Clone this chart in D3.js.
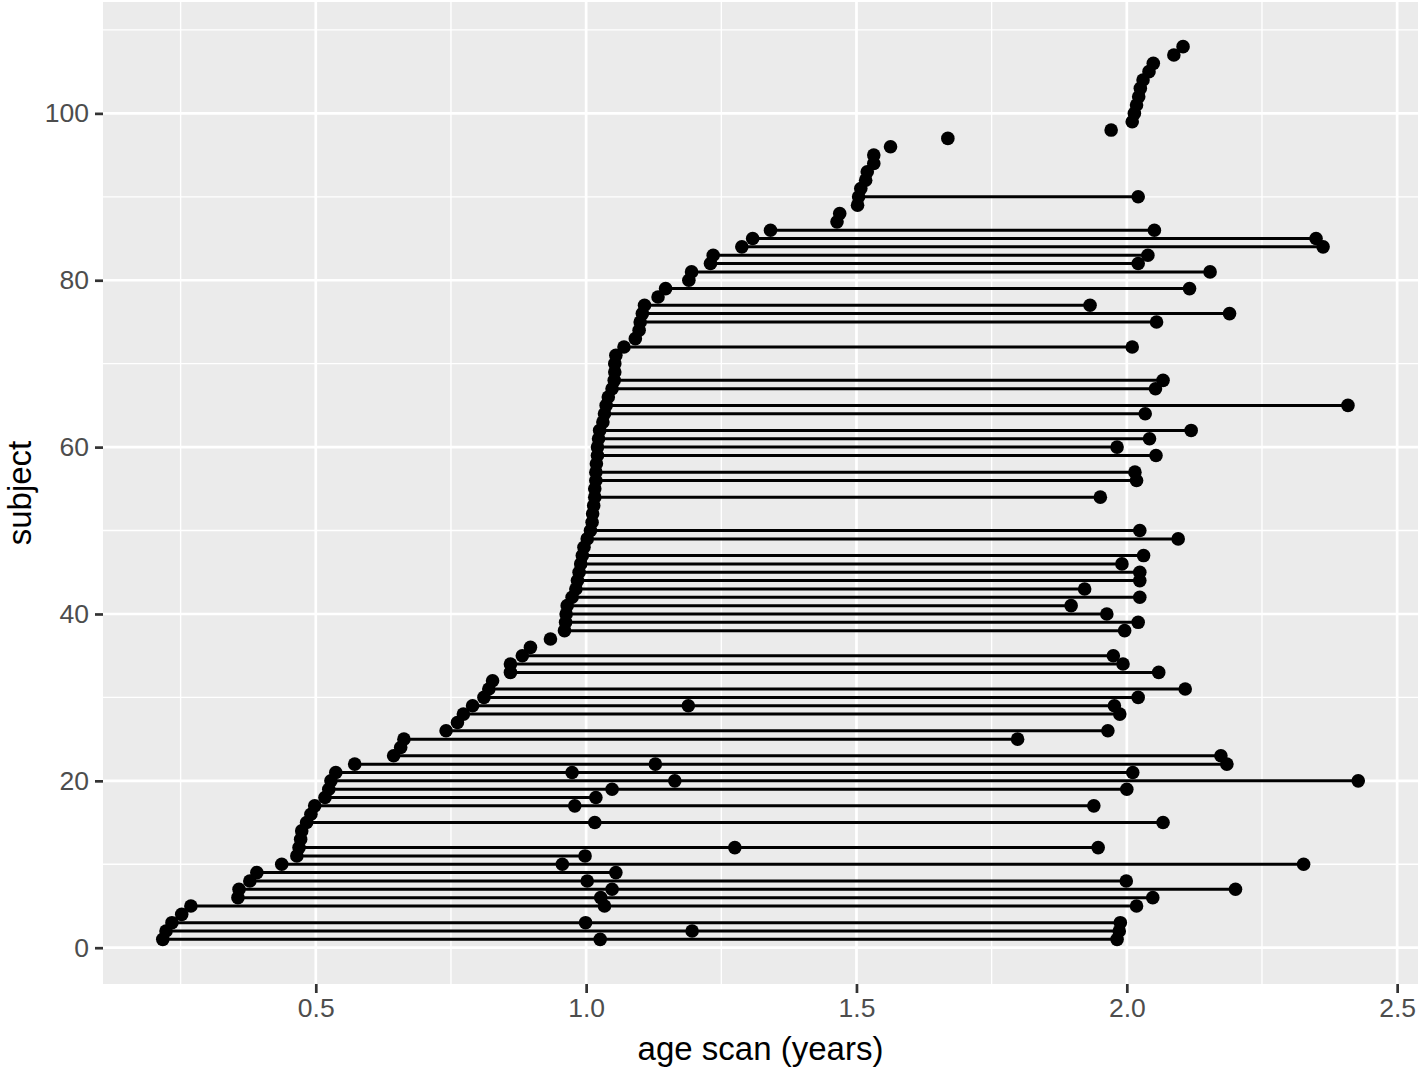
<!DOCTYPE html>
<html>
<head>
<meta charset="utf-8">
<script src="https://cdn.jsdelivr.net/npm/d3@7"></script>
<style>
  body { margin: 0; background: #ffffff; }
  svg { display: block; }
  text { font-family: "Liberation Sans", Arial, Helvetica, sans-serif; }
</style>
</head>
<body>
<div id="chart"></div>
<script>
// ---- data: subjects 1..108, age at each scan (years) ----
const subjects = d3.range(1, 109);
const scan1 = [
  0.217, 0.223, 0.234, 0.252, 0.269, 0.356, 0.358, 0.378, 0.391, 0.437,
  0.465, 0.469, 0.472, 0.474, 0.483, 0.491, 0.498, 0.517, 0.524, 0.528,
  0.537, 0.572, 0.644, 0.657, 0.663, 0.741, 0.762, 0.773, 0.790, 0.811,
  0.820, 0.827, 0.860, 0.860, 0.882, 0.897, 0.934, 0.960, 0.962, 0.963,
  0.965, 0.974, 0.981, 0.984, 0.987, 0.990, 0.993, 0.996, 1.002, 1.008,
  1.011, 1.012, 1.014, 1.016, 1.016, 1.018, 1.018, 1.019, 1.021, 1.021,
  1.023, 1.025, 1.031, 1.034, 1.037, 1.041, 1.048, 1.052, 1.053, 1.053,
  1.055, 1.070, 1.091, 1.098, 1.100, 1.104, 1.108, 1.133, 1.147, 1.190,
  1.195, 1.230, 1.235, 1.288, 1.308, 1.341, 1.464, 1.469, 1.502, 1.504,
  1.508, 1.517, 1.520, 1.532, 1.532, 1.563, 1.669, 1.971, 2.010, 2.014,
  2.018, 2.022, 2.025, 2.030, 2.041, 2.049, 2.087, 2.104
];
const scan2 = [
  1.026, 1.196, 0.999, null, 1.034, 1.027, 1.048, 1.002, 1.055, 0.956,
  0.998, 1.275, null, null, 1.016, null, 0.979, 1.018, 1.048, 1.164,
  0.974, 1.128, 2.174, null, 1.798, 1.965, null, 1.987, 1.189, 2.021,
  2.108, null, 2.059, 1.993, 1.975, null, null, 1.996, 2.021, 1.963,
  1.897, 2.024, 1.922, 2.024, 2.024, 1.991, 2.031, null, 2.095, 2.024,
  null, null, null, 1.951, null, 2.018, 2.015, null, 2.054, 1.982,
  2.042, 2.119, null, 2.034, 2.409, null, 2.053, 2.067, null, null,
  null, 2.010, null, null, 2.055, 2.190, 1.932, null, 2.116, null,
  2.154, 2.021, 2.039, 2.363, 2.350, 2.051, null, null, null, 2.021,
  null, null, null, null, null, null, null, null, null, null,
  null, null, null, null, null, null, null, null
];
const scan3 = [
  1.982, 1.986, 1.988, null, 2.018, 2.048, 2.201, 1.999, null, 2.327,
  null, 1.947, null, null, 2.067, null, 1.939, null, 2.000, 2.428,
  2.011, 2.185, null, null, null, null, null, null, 1.977, null
];
const xTicks = [0.5, 1.0, 1.5, 2.0, 2.5];
const yTicks = [0, 20, 40, 60, 80, 100];
const xTitle = "age scan (years)";
const yTitle = "subject";

// ---- build long table ----
const scans = [];
subjects.forEach((s, i) => {
  [scan1[i], scan2[i], scan3[i]].forEach(v => {
    if (v !== null && v !== undefined) scans.push({subject: s, age: v});
  });
});
const spans = d3.groups(scans, d => d.subject)
  .map(([s, arr]) => ({subject: s, min: d3.min(arr, d => d.age), max: d3.max(arr, d => d.age), n: arr.length}))
  .filter(d => d.n > 1);

// ---- layout ----
const W = 1418, H = 1069;
const panel = {left: 103, right: 1418, top: 2, bottom: 984};

const xExt = d3.extent(scans, d => d.age);
const xPad = (xExt[1] - xExt[0]) * 0.05;
const yExt = d3.extent(subjects);
const yPad = (yExt[1] - yExt[0]) * 0.05;

const x = d3.scaleLinear().domain([xExt[0] - xPad, xExt[1] + xPad]).range([panel.left, panel.right]);
const y = d3.scaleLinear().domain([yExt[0] - yPad, yExt[1] + yPad]).range([panel.bottom, panel.top]);

const svg = d3.select("#chart").append("svg").attr("width", W).attr("height", H);

// panel background
svg.append("rect")
  .attr("x", panel.left).attr("y", panel.top)
  .attr("width", panel.right - panel.left).attr("height", panel.bottom - panel.top)
  .attr("fill", "#EBEBEB");

const grid = svg.append("g");
const xMinor = xTicks.map(t => t - 0.25).concat([xTicks[xTicks.length - 1] + 0.25])
  .filter(t => t >= x.domain()[0] && t <= x.domain()[1]);
const yMinor = yTicks.map(t => t + 10).filter(t => t >= y.domain()[0] && t <= y.domain()[1]);

grid.selectAll(".xminor").data(xMinor).join("line")
  .attr("x1", d => x(d)).attr("x2", d => x(d)).attr("y1", panel.top).attr("y2", panel.bottom)
  .attr("stroke", "#ffffff").attr("stroke-width", 1.35);
grid.selectAll(".yminor").data(yMinor).join("line")
  .attr("y1", d => y(d)).attr("y2", d => y(d)).attr("x1", panel.left).attr("x2", panel.right)
  .attr("stroke", "#ffffff").attr("stroke-width", 1.35);
grid.selectAll(".xmajor").data(xTicks).join("line")
  .attr("x1", d => x(d)).attr("x2", d => x(d)).attr("y1", panel.top).attr("y2", panel.bottom)
  .attr("stroke", "#ffffff").attr("stroke-width", 2.7);
grid.selectAll(".ymajor").data(yTicks).join("line")
  .attr("y1", d => y(d)).attr("y2", d => y(d)).attr("x1", panel.left).attr("x2", panel.right)
  .attr("stroke", "#ffffff").attr("stroke-width", 2.7);

// lines
svg.append("g").selectAll("line").data(spans).join("line")
  .attr("x1", d => x(d.min)).attr("x2", d => x(d.max))
  .attr("y1", d => y(d.subject)).attr("y2", d => y(d.subject))
  .attr("stroke", "#000000").attr("stroke-width", 3);

// points
svg.append("g").selectAll("circle").data(scans).join("circle")
  .attr("cx", d => x(d.age)).attr("cy", d => y(d.subject))
  .attr("r", 6.8).attr("fill", "#000000");

// axes
const xAxis = d3.axisBottom(x).tickValues(xTicks).tickFormat(d3.format(".1f")).tickSize(9).tickPadding(5);
const gx = svg.append("g").attr("transform", `translate(0,${panel.bottom})`).call(xAxis);
gx.select(".domain").remove();
gx.selectAll(".tick line").attr("stroke", "#333333").attr("stroke-width", 2.7);
gx.selectAll(".tick text").attr("fill", "#4D4D4D").style("font-size", "26.5px")
  .style("font-family", "'Liberation Sans', Arial, sans-serif");

const yAxis = d3.axisLeft(y).tickValues(yTicks).tickFormat(d3.format("d")).tickSize(8).tickPadding(6);
const gy = svg.append("g").attr("transform", `translate(${panel.left},0)`).call(yAxis);
gy.select(".domain").remove();
gy.selectAll(".tick line").attr("stroke", "#333333").attr("stroke-width", 2.7);
gy.selectAll(".tick text").attr("fill", "#4D4D4D").style("font-size", "26.5px")
  .style("font-family", "'Liberation Sans', Arial, sans-serif");

// titles
svg.append("text")
  .attr("x", (panel.left + panel.right) / 2).attr("y", 1060)
  .attr("text-anchor", "middle").attr("fill", "#000000")
  .style("font-size", "33px").text(xTitle);
svg.append("text")
  .attr("transform", `translate(31,${(panel.top + panel.bottom) / 2}) rotate(-90)`)
  .attr("text-anchor", "middle").attr("fill", "#000000")
  .style("font-size", "33px").text(yTitle);
</script>
</body>
</html>
